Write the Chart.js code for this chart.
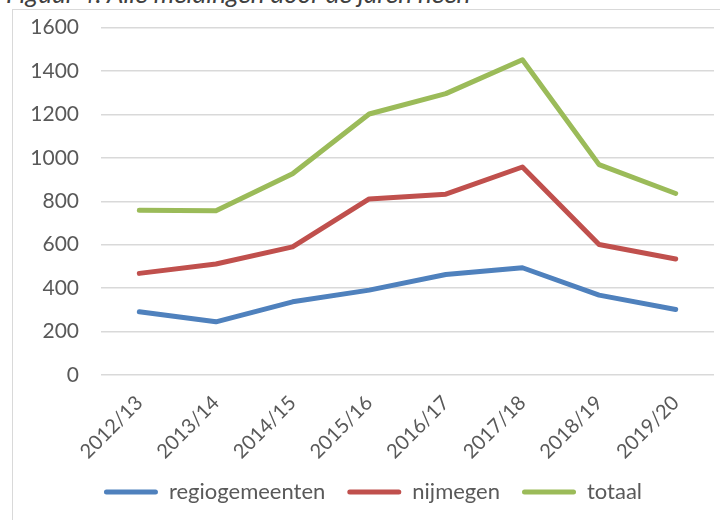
<!DOCTYPE html>
<html><head><meta charset="utf-8">
<script src="https://cdn.jsdelivr.net/npm/chart.js@4.4.1/dist/chart.umd.min.js"></script>
<style>
html,body{margin:0;padding:0;width:720px;height:520px;overflow:hidden;background:#fff;}
#title{position:absolute;left:6px;top:-23px;font:italic 26px Lato, sans-serif;line-height:normal;color:#404040;white-space:nowrap;}
#frame{position:absolute;left:12px;top:9px;width:722px;height:520px;border:1.5px solid #d9d9d9;box-sizing:border-box;}
#wrap{position:absolute;left:12px;top:9px;width:722px;height:511px;}
</style></head><body>
<div id="title">Figuur 4: Alle meldingen door de jaren heen</div>
<div id="frame"></div>
<div id="wrap"><canvas id="c"></canvas></div>
<script>
const categories = ['2012/13','2013/14','2014/15','2015/16','2016/17','2017/18','2018/19','2019/20'];
const regiogemeenten = [291,245,337,391,463,494,368,302];
const nijmegen = [468,511,590,811,833,958,601,534];
const totaal = [759,756,927,1202,1296,1452,969,836];
const yTicks = [0,200,400,600,800,1000,1200,1400,1600];

const FONT = 'Lato';
const TXT = '#595959';
function ds(label, data, color){
  return {label, data, borderColor:color, backgroundColor:color, borderWidth:5,
    pointRadius:0, pointHoverRadius:0, tension:0, borderCapStyle:'round', borderJoinStyle:'round', fill:false};
}
const shiftLegend = {
  id:'shiftLegend',
  afterLayout(chart){ if(chart.legend){ chart.legend.left += 10; chart.legend.right += 10; } }
};
new Chart(document.getElementById('c'), {
  type:'line',
  data:{labels:categories, datasets:[
    ds('regiogemeenten', regiogemeenten, '#4F81BD'),
    ds('nijmegen', nijmegen, '#C0504D'),
    ds('totaal', totaal, '#9BBB59')
  ]},
  plugins:[shiftLegend],
  options:{
    responsive:true, maintainAspectRatio:false, animation:false,
    layout:{padding:{top:0, right:20, left:0, bottom:7}},
    plugins:{
      tooltip:{enabled:false},
      legend:{position:'bottom', align:'center',
        labels:{font:{family:FONT,size:22}, color:TXT, boxWidth:54, boxHeight:5, padding:22,
          useBorderRadius:true, borderRadius:2.5,
          generateLabels:(chart)=>Chart.defaults.plugins.legend.labels.generateLabels(chart).map(l=>({...l, lineWidth:0}))}
      }
    },
    scales:{
      x:{offset:true, grid:{display:false, drawTicks:false}, border:{display:false},
        ticks:{font:{family:FONT,size:20}, color:TXT, minRotation:45, maxRotation:45, padding:16, autoSkip:false},
        afterFit:(s)=>{s.height=84;}
      },
      y:{min:0, max:1600, grid:{color:'#d9d9d9', lineWidth:1.5, drawTicks:true, tickLength:16, tickColor:'rgba(0,0,0,0)'}, border:{display:false},
        afterBuildTicks:(s)=>{s.ticks = yTicks.map(v=>({value:v}));},
        ticks:{font:{family:FONT,size:21}, color:TXT, padding:6, callback:(v)=>String(v)},
        afterFit:(s)=>{s.width=89;}
      }
    }
  }
});
</script>
</body></html>
